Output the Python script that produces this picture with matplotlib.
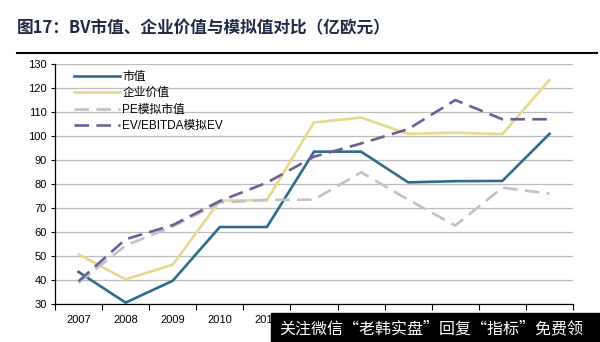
import numpy as np
import matplotlib
matplotlib.use("Agg")
import matplotlib.pyplot as plt
from matplotlib.patches import Rectangle

plt.rcParams['font.family'] = ['Liberation Sans', 'Noto Sans CJK SC', 'DejaVu Sans']

# Данные (млрд евро)
years = ['2007', '2008', '2009', '2010', '2011', '2012', '2013', '2014', '2015', '2016', '2017']
market_cap = [43.5, 30.7, 39.8, 62.2, 62.2, 93.6, 93.6, 80.8, 81.3, 81.4, 101.0]
enterprise_value = [50.8, 40.4, 46.5, 73.2, 73.4, 105.8, 107.8, 101.0, 101.5, 100.9, 123.5]
pe_model = [39.0, 54.5, 62.4, 72.4, 73.5, 73.6, 85.0, 73.6, 62.8, 78.6, 76.1]
ev_ebitda_model = [39.6, 57.1, 63.0, 73.0, 80.7, 91.5, 97.0, 103.0, 115.1, 107.1, 107.1]

series_names = ['市值', '企业价值', 'PE模拟市值', 'EV/EBITDA模拟EV']
yticks = np.arange(30, 131, 10)

fig = plt.figure(figsize=(6.0, 3.42), dpi=100)
ax = fig.add_axes([55 / 600, 1 - 304.3 / 342, 518 / 600, 240 / 342])

x = np.arange(len(years))
ax.plot(x, market_cap, color='#2f6b8c', lw=1.9, label=series_names[0])
ax.plot(x, enterprise_value, color='#e6d98c', lw=1.9, label=series_names[1])
ax.plot(x, pe_model, color='#c2c2c2', lw=1.9, dashes=(5.5, 2.8), label=series_names[2])
ax.plot(x, ev_ebitda_model, color='#6d5f96', lw=1.9, dashes=(5.5, 2.8), label=series_names[3])

ax.set_xlim(-0.5, len(years) - 0.5)
ax.set_ylim(30, 130)
ax.set_yticks(yticks)
ax.set_yticklabels([str(v) for v in yticks], fontsize=8)
ax.set_xticks(x)
ax.set_xticklabels(years, fontsize=8)
ax.set_xticks(np.arange(-0.5, len(years)), minor=True)
ax.tick_params(axis='x', which='major', length=0, pad=8)
ax.tick_params(axis='x', which='minor', length=4, width=0.8, direction='out')
ax.tick_params(axis='y', length=3, width=0.8, pad=3)

ax.grid(axis='y', color='#bdbdbd', lw=0.9)
ax.set_axisbelow(True)
for s in ['top', 'right']:
    ax.spines[s].set_visible(False)
ax.spines['left'].set_color('black')
ax.spines['bottom'].set_color('black')
ax.spines['left'].set_linewidth(0.9)
ax.spines['bottom'].set_linewidth(0.9)

leg = ax.legend(loc='upper left', bbox_to_anchor=(0.025, 1.0), frameon=False,
                handlelength=3.9, handletextpad=0.15, labelspacing=0.38,
                borderaxespad=0.15, prop={'family': ['Liberation Sans', 'Noto Sans CJK SC'], 'size': 8.5})

# Заголовок
fig.text(17 / 600, 1 - 28 / 342, '图17：BV市值、企业价值与模拟值对比（亿欧元）',
         fontsize=12, fontweight='bold', color='#1f2b45', va='center', ha='left',
         family=['Noto Sans CJK SC', 'DejaVu Sans'])
fig.add_artist(plt.Line2D([17 / 600, 597 / 600], [1 - 53 / 342, 1 - 53 / 342],
                          color='black', lw=1.5))

# Водяной знак
fig.add_artist(Rectangle((271 / 600, 0), 329 / 600, 29.5 / 342, transform=fig.transFigure,
                         color='black', zorder=10))
fig.text(279 / 600, 1 - 329 / 342, '关注微信“老韩实盘”回复“指标”免费领', fontsize=11.5,
         color='white', va='center', ha='left', zorder=11,
         family=['Noto Sans CJK SC', 'DejaVu Sans'])

fig.savefig('out.png', dpi=100)
